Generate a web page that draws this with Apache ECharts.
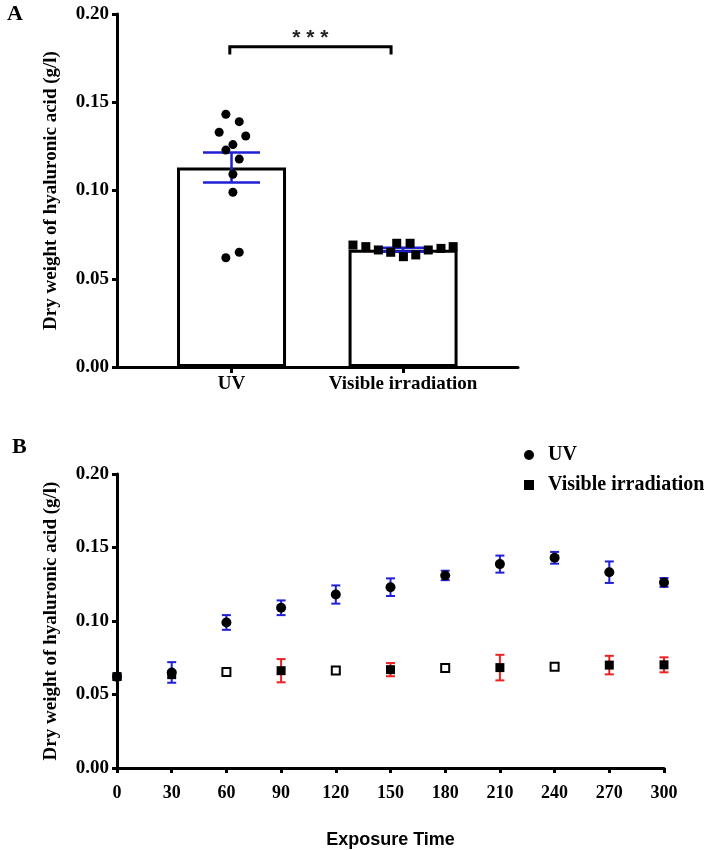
<!DOCTYPE html>
<html>
<head>
<meta charset="utf-8">
<script src="https://cdn.jsdelivr.net/npm/echarts@6/dist/echarts.min.js"></script>
<style>html,body{margin:0;padding:0;background:#fff}#c{width:708px;height:850px}</style>
</head>
<body>
<div id="c"></div>
<script>
// ---------- Panel A data ----------
const groupLabels = ['UV', 'Visible irradiation'];
const groupPos = [1, 2];
const barMeans = [0.113, 0.0665];
const barSems = [0.0085, 0.0010];
const uvDots = [0.1432, 0.1390, 0.1330, 0.1309, 0.1260, 0.1229, 0.1178, 0.1092, 0.0990, 0.0619, 0.0650];
const uvJitter = [-0.033, 0.045, -0.072, 0.083, 0.008, -0.033, 0.045, 0.008, 0.008, -0.033, 0.045];
const visDots = [0.0691, 0.0682, 0.0663, 0.0650, 0.0701, 0.0625, 0.0701, 0.0635, 0.0663, 0.0672, 0.0682];
const visJitter = [-0.292, -0.217, -0.144, -0.072, -0.037, 0.002, 0.041, 0.074, 0.147, 0.221, 0.292];
const sigBracket = [0.99, 1.93, 0.1815, 0.1770];
const sigLabel = '* * *';
const yTicksA = [0, 0.05, 0.10, 0.15, 0.20];

// ---------- Panel B data ----------
const exposureTimes = [0, 30, 60, 90, 120, 150, 180, 210, 240, 270, 300];
const uvMean = [0.0620, 0.0650, 0.0990, 0.1090, 0.1180, 0.1230, 0.1310, 0.1387, 0.1430, 0.1332, 0.1262];
const uvSem  = [0.0020, 0.0070, 0.0050, 0.0050, 0.0062, 0.0060, 0.0032, 0.0058, 0.0040, 0.0073, 0.0030];
const visMean = [0.0622, 0.0635, 0.0653, 0.0662, 0.0664, 0.0669, 0.0680, 0.0683, 0.0689, 0.0700, 0.0702];
const visSem  = [0, 0, 0, 0.0079, 0, 0.0045, 0, 0.0087, 0, 0.0063, 0.0051];
const yTicksB = [0, 0.05, 0.10, 0.15, 0.20];

const SERIF = '"Liberation Serif", "Times New Roman", serif';
const SANS = '"Liberation Sans", Arial, sans-serif';
const BLUE = '#1f1fd6';
const RED = '#ee2222';
const hollowTimes = [60, 120, 180, 240];

function errRender(capPx, color, lw) {
  return function (params, api) {
    const x = api.value(0), m = api.value(1), s = api.value(2);
    if (!s) return null;
    const t = api.coord([x, m + s]);
    const b = api.coord([x, m - s]);
    const h = capPx / 2;
    const st = { stroke: color, lineWidth: lw };
    return {
      type: 'group',
      children: [
        { type: 'line', shape: { x1: t[0], y1: t[1], x2: b[0], y2: b[1] }, style: st },
        { type: 'line', shape: { x1: t[0] - h, y1: t[1], x2: t[0] + h, y2: t[1] }, style: st },
        { type: 'line', shape: { x1: b[0] - h, y1: b[1], x2: b[0] + h, y2: b[1] }, style: st }
      ]
    };
  };
}

const axisLineStyle = { lineStyle: { color: '#000', width: 3 } };
const tickStyle = { show: true, length: 5, lineStyle: { color: '#000', width: 3 } };
const labelFont = { color: '#000', fontFamily: SERIF, fontWeight: 'bold', fontSize: 19 };

const chart = echarts.init(document.getElementById('c'), null, { renderer: 'canvas' });
chart.setOption({
  backgroundColor: '#fff',
  animation: false,
  title: [
    { text: 'A', left: 2, top: -2, textStyle: { fontFamily: SERIF, fontWeight: 'bold', fontSize: 22, color: '#000' } },
    { text: 'B', left: 7, top: 431, textStyle: { fontFamily: SERIF, fontWeight: 'bold', fontSize: 22, color: '#000' } }
  ],
  legend: {
    orient: 'vertical',
    left: 519,
    top: 440,
    itemWidth: 10,
    itemHeight: 10,
    itemGap: 10,
    data: [
      { name: 'UV', icon: 'circle' },
      { name: 'Visible irradiation', icon: 'rect' }
    ],
    textStyle: { fontFamily: SERIF, fontWeight: 'bold', fontSize: 20, color: '#000', padding: [0, 0, 0, 9] },
    selectedMode: false
  },
  grid: [
    { left: 117, right: 190, top: 14, height: 353 },
    { left: 117, right: 44, top: 474, height: 295 }
  ],
  xAxis: [
    {
      gridIndex: 0, type: 'value', min: 0.3324, max: 2.670,
      splitLine: { show: false },
      axisLine: axisLineStyle,
      axisTick: Object.assign({}, tickStyle, { customValues: groupPos, length: 6 }),
      axisLabel: Object.assign({}, labelFont, {
        customValues: groupPos, margin: 8,
        formatter: function (v) { const i = groupPos.indexOf(Math.round(v)); return i >= 0 ? groupLabels[i] : ''; }
      })
    },
    {
      gridIndex: 1, type: 'value', min: 0, max: 300, interval: 30,
      splitLine: { show: false },
      axisLine: axisLineStyle,
      axisTick: tickStyle,
      axisLabel: Object.assign({}, labelFont, { fontSize: 18, margin: 16 }),
      name: 'Exposure Time', nameLocation: 'middle', nameGap: 63,
      nameTextStyle: { fontFamily: SANS, fontWeight: 'bold', fontSize: 18, color: '#000' }
    }
  ],
  yAxis: [
    {
      gridIndex: 0, type: 'value', min: 0, max: 0.2, interval: 0.05,
      splitLine: { show: false },
      axisLine: Object.assign({ show: true }, axisLineStyle),
      axisTick: tickStyle,
      axisLabel: Object.assign({}, labelFont, { margin: 8, formatter: v => v.toFixed(2) }),
      name: 'Dry weight of hyaluronic acid (g/l)', nameLocation: 'middle', nameGap: 56, nameRotate: 90,
      nameTextStyle: { fontFamily: SERIF, fontWeight: 'bold', fontSize: 19, color: '#000' }
    },
    {
      gridIndex: 1, type: 'value', min: 0, max: 0.2, interval: 0.05,
      splitLine: { show: false },
      axisLine: Object.assign({ show: true }, axisLineStyle),
      axisTick: tickStyle,
      axisLabel: Object.assign({}, labelFont, { margin: 8, formatter: v => v.toFixed(2) }),
      name: 'Dry weight of hyaluronic acid (g/l)', nameLocation: 'middle', nameGap: 56, nameRotate: 90,
      nameTextStyle: { fontFamily: SERIF, fontWeight: 'bold', fontSize: 19, color: '#000' }
    }
  ],
  series: [
    // Panel A bars
    {
      name: 'barsA', type: 'bar', xAxisIndex: 0, yAxisIndex: 0,
      barWidth: 109,
      data: groupPos.map((p, i) => [p, barMeans[i]]),
      itemStyle: { color: '#fff', borderColor: '#000', borderWidth: 3 },
      z: 2
    },
    // Panel A error bars
    {
      name: 'errA', type: 'custom', xAxisIndex: 0, yAxisIndex: 0,
      renderItem: errRender(57, BLUE, 2.5),
      encode: { x: 0, y: 1 },
      data: groupPos.map((p, i) => [p, barMeans[i], barSems[i]]),
      z: 3
    },
    // Panel A dots
    {
      name: 'uvDotsA', type: 'scatter', xAxisIndex: 0, yAxisIndex: 0,
      symbol: 'circle', symbolSize: 9,
      itemStyle: { color: '#000', opacity: 1 },
      data: uvDots.map((v, i) => [groupPos[0] + uvJitter[i], v]),
      z: 4
    },
    {
      name: 'visDotsA', type: 'scatter', xAxisIndex: 0, yAxisIndex: 0,
      symbol: 'rect', symbolSize: 9,
      itemStyle: { color: '#000', opacity: 1 },
      data: visDots.map((v, i) => [groupPos[1] + visJitter[i], v]),
      z: 4
    },
    // Significance bracket
    {
      name: 'sigA', type: 'custom', xAxisIndex: 0, yAxisIndex: 0,
      encode: { x: [0, 1], y: [2, 3] },
      data: [sigBracket],
      renderItem: function (params, api) {
        const l = api.coord([api.value(0), api.value(3)]);
        const lt = api.coord([api.value(0), api.value(2)]);
        const rt = api.coord([api.value(1), api.value(2)]);
        const r = api.coord([api.value(1), api.value(3)]);
        return {
          type: 'group',
          children: [
            { type: 'polyline', shape: { points: [l, lt, rt, r] }, style: { stroke: '#000', lineWidth: 3, fill: null } },
            { type: 'text', x: (lt[0] + rt[0]) / 2, y: lt[1] - 8,
              style: { text: sigLabel, fontFamily: SANS, fontWeight: 'bold', fontSize: 21, fill: '#222', align: 'center', verticalAlign: 'middle' } }
          ]
        };
      },
      z: 5
    },
    // Panel B error bars
    {
      name: 'uvErrB', type: 'custom', xAxisIndex: 1, yAxisIndex: 1,
      renderItem: errRender(9, BLUE, 2),
      encode: { x: 0, y: 1 },
      data: exposureTimes.map((t, i) => [t, uvMean[i], uvSem[i]]),
      z: 3
    },
    {
      name: 'visErrB', type: 'custom', xAxisIndex: 1, yAxisIndex: 1,
      renderItem: errRender(9, RED, 2),
      encode: { x: 0, y: 1 },
      data: exposureTimes.map((t, i) => [t, visMean[i], visSem[i]]),
      z: 3
    },
    // Panel B points
    {
      name: 'UV', type: 'scatter', xAxisIndex: 1, yAxisIndex: 1,
      symbol: 'circle', symbolSize: 10,
      itemStyle: { color: '#000', opacity: 1 },
      data: exposureTimes.map((t, i) => [t, uvMean[i]]),
      z: 4
    },
    {
      name: 'Visible irradiation', type: 'scatter', xAxisIndex: 1, yAxisIndex: 1,
      symbol: 'rect', symbolSize: 9,
      itemStyle: { color: '#000', opacity: 1 },
      data: exposureTimes.map((t, i) => hollowTimes.indexOf(t) >= 0
        ? { value: [t, visMean[i]], symbolSize: 8, itemStyle: { color: '#fff', borderColor: '#000', borderWidth: 2 } }
        : [t, visMean[i]]),
      z: 5
    }
  ]
});
</script>
</body>
</html>
